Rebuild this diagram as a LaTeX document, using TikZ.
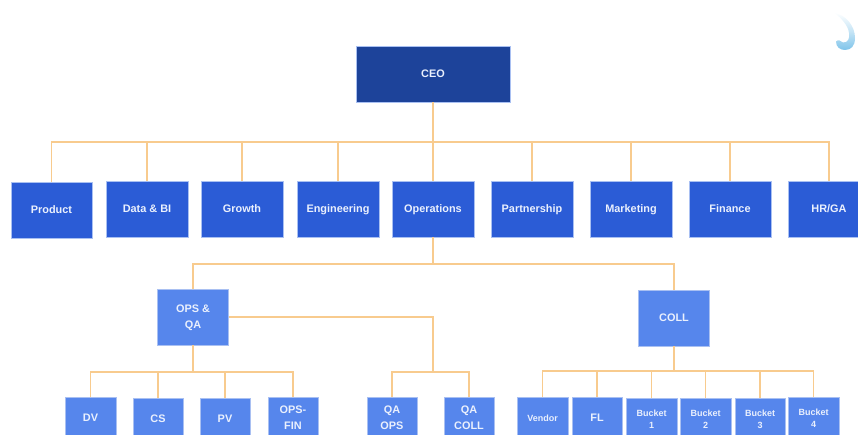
\documentclass[tikz,border=0pt]{standalone}
\usepackage{fontspec}
\setmainfont{Liberation Sans}
\definecolor{ceoblue}{HTML}{1D439A}
\definecolor{deptblue}{HTML}{2B5CD6}
\definecolor{teamblue}{HTML}{5686EC}
\definecolor{edgeblue}{HTML}{A9C0F2}
\definecolor{linkorange}{HTML}{F8CB8E}
\definecolor{swooshblue}{HTML}{7FC4EA}
\definecolor{labelwhite}{HTML}{EAF0FD}

\begin{document}
\begin{tikzpicture}[x=1pt,y=-1pt,
        ceobox/.style={draw=edgeblue,fill=ceoblue,minimum width=154pt,minimum height=56pt},
        deptbox/.style={draw=edgeblue,fill=deptblue,minimum width=82pt,minimum height=56pt},
        teambox/.style={draw=edgeblue,fill=teamblue,minimum width=71pt,minimum height=56pt},
        leafbox/.style={draw=edgeblue,fill=teamblue,minimum width=50.5pt,minimum height=42pt},
        smallbox/.style={leafbox,font=\fontsize{9}{12}\selectfont\bfseries},
        every node/.style={text=labelwhite,align=center,inner sep=0pt,line width=.5pt,text depth=0pt,
            font=\fontsize{10.9}{16}\selectfont\bfseries},
        link/.style={draw=linkorange,line width=1.3pt}]

    \path[use as bounding box,clip] (0,0) rectangle (858,435);

    \shade[top color=white,bottom color=swooshblue,middle color=swooshblue!45]
        (834,12.5) .. controls (846,15) and (855,26) .. (855,38)
        .. controls (855,46) and (851,50) .. (845,50)
        .. controls (840,50) and (836,47) .. (836,41.5)
        .. controls (838,39) and (841,41) .. (843,42.5)
        .. controls (848,43) and (850,38) .. (849,33)
        .. controls (848,25) and (841,18) .. (834,12.5) -- cycle;

    \coordinate (busa) at (433,142);
    \coordinate (busb) at (433,264);
    \coordinate (busc) at (193,372);
    \coordinate (busd) at (433,372);
    \coordinate (buse) at (674,371);
    \coordinate (bend) at (433,317);

    \node[ceobox] (ceo) at (433,74) {CEO};

    \node[deptbox,minimum width=81pt] (product) at (51.5,210) {Product};
    \node[deptbox] (databi) at (147,209) {Data \& BI};
    \node[deptbox] (growth) at (242,209) {Growth};
    \node[deptbox] (engineering) at (338,209) {Engineering};
    \node[deptbox] (operations) at (433,209) {Operations};
    \node[deptbox] (partnership) at (532,209) {Partnership};
    \node[deptbox] (marketing) at (631,209) {Marketing};
    \node[deptbox] (finance) at (730,209) {Finance};
    \node[deptbox] (hrga) at (829,209) {HR/GA};

    \node[teambox] (opsqa) at (193,317) {OPS \&\\QA};
    \node[teambox] (coll) at (674,318) {COLL};

    \node[leafbox] (dv) at (90.5,418) {DV};
    \node[leafbox] (cs) at (158,419) {CS};
    \node[leafbox] (pv) at (225,419) {PV};
    \node[leafbox] (opsfin) at (293,418) {OPS-\\FIN};
    \node[leafbox] (qaops) at (392,418) {QA\\OPS};
    \node[leafbox] (qacoll) at (469,418) {QA\\COLL};

    \node[smallbox] (vendor) at (542.5,418) {Vendor};
    \node[leafbox] (fl) at (597,418) {FL};
    \node[smallbox] (bucketa) at (651.5,419) {Bucket\\1};
    \node[smallbox] (bucketb) at (705.5,419) {Bucket\\2};
    \node[smallbox] (bucketc) at (760,419) {Bucket\\3};
    \node[smallbox] (bucketd) at (813.5,418) {Bucket\\4};

    \draw[link] (ceo.south) -- (busa);
    \foreach \dept in {product,databi,growth,engineering,partnership,marketing,finance,hrga}
        \draw[link] (busa) -| (\dept.north);
    \draw[link] (busa) -- (operations.north);

    \draw[link] (operations.south) -- (busb);
    \draw[link] (busb) -| (opsqa.north);
    \draw[link] (busb) -| (coll.north);

    \draw[link] (opsqa.south) -- (busc);
    \foreach \leaf in {dv,cs,pv,opsfin}
        \draw[link] (busc) -| (\leaf.north);

    \draw[link] (opsqa.east) -- (bend) -- (busd);
    \foreach \leaf in {qaops,qacoll}
        \draw[link] (busd) -| (\leaf.north);

    \draw[link] (coll.south) -- (buse);
    \foreach \leaf in {vendor,fl,bucketa,bucketb,bucketc,bucketd}
        \draw[link] (buse) -| (\leaf.north);
\end{tikzpicture}
\end{document}
